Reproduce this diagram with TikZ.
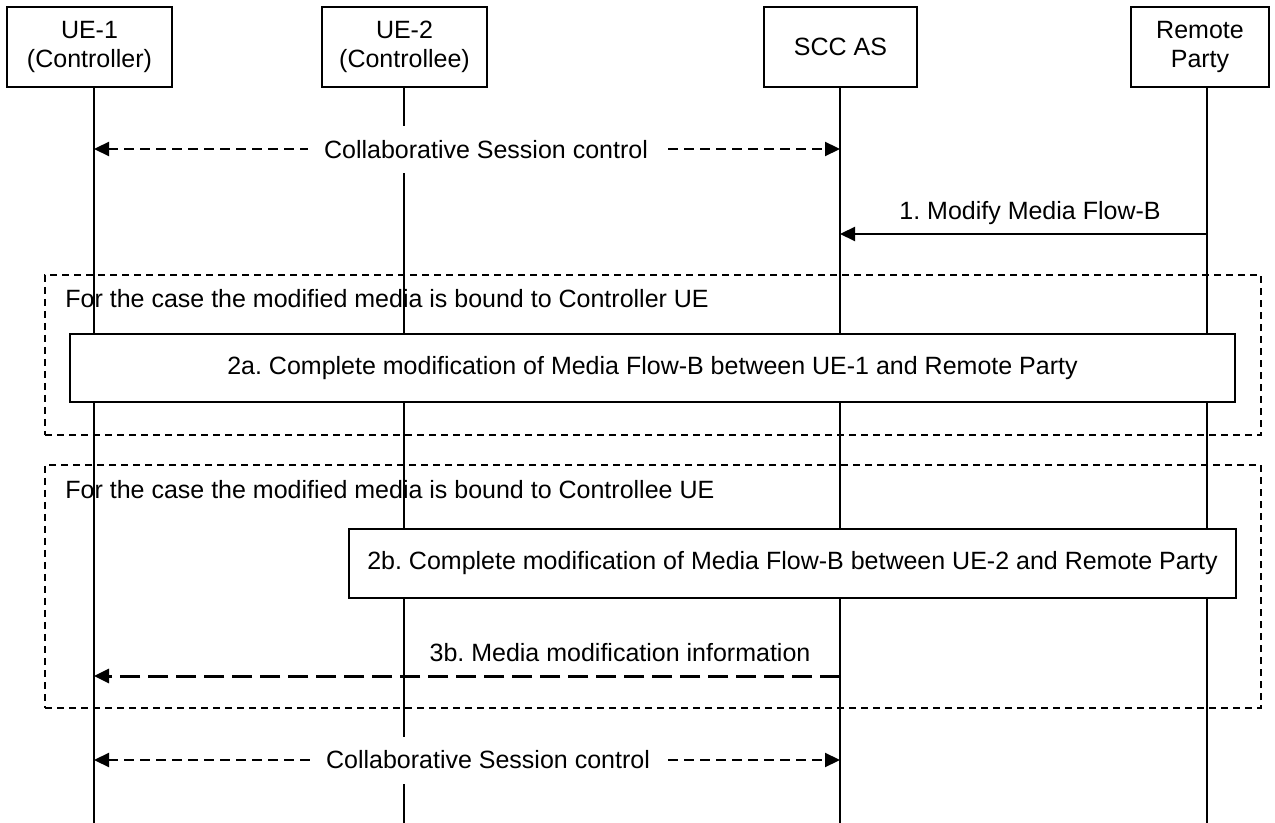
\documentclass[tikz,border=0pt]{standalone}
\usepackage{fontspec}
\setmainfont{Liberation Sans}
\usetikzlibrary{arrows.meta,fit}
\frenchspacing
\begin{document}
\begin{tikzpicture}[x=0.5pt,y=-0.5pt,
  font=\fontsize{12.5}{14.5}\selectfont,
  hdr/.style={draw, line width=0.9pt, fill=white, inner sep=0pt, align=center, minimum height=40pt},
  life/.style={line width=0.6pt},
  actbox/.style={draw, line width=0.9pt, fill=white, inner sep=0pt},
  grp/.style={draw, line width=0.6pt, dash pattern=on 3.5pt off 2.5pt},
  ctl/.style={line width=1.1pt, dash pattern=on 5pt off 3pt, {Triangle[length=7.5pt,width=7pt]}-{Triangle[length=7.5pt,width=7pt]}},
  msg/.style={line width=1.1pt, -{Triangle[length=7.5pt,width=7pt]}},
  lmsg/.style={line width=1.5pt, dash pattern=on 10pt off 4pt, -{Triangle[length=7.5pt,width=7pt]}},
  lbl/.style={inner sep=0pt},
  wlbl/.style={fill=white, inner xsep=8pt, inner ysep=0pt, minimum height=23.5pt}
]
\useasboundingbox (0,0) rectangle (1275,823);

% header boxes
\node[hdr, minimum width=82.5pt] (ue1) at (89.5,47) {UE-1\\(Controller)};
\node[hdr, minimum width=82.5pt] (ue2) at (404.5,47) {UE-2\\(Controllee)};
\node[hdr, minimum width=76.5pt] (scc) at (840.5,47) {SCC AS};
\node[hdr, minimum width=69pt] (rp) at (1200,47) {Remote\\Party};

% lifeline ends
\coordinate (ue1b) at (94,823);
\coordinate (ue2b) at (404,823);
\coordinate (sccb) at (840,823);
\coordinate (rpb) at (1207,823);

\draw[life] (ue1b |- ue1.south) -- (ue1b);
\draw[life] (ue2b |- ue2.south) -- (ue2b);
\draw[life] (sccb |- scc.south) -- (sccb);
\draw[life] (rpb |- rp.south) -- (rpb);

% group frames
\node[grp, fit={(45,275)(1261,435)}, inner sep=0pt] (g1) {};
\node[grp, fit={(45,465)(1261,708)}, inner sep=0pt] (g2) {};
\node[lbl, anchor=west] (g1t) at (65,299) {For the case the modified media is bound to Controller UE};
\node[lbl, anchor=west] (g2t) at (65,490) {For the case the modified media is bound to Controllee UE};

% action boxes
\node[actbox, minimum width=582.5pt, minimum height=34pt] (a2) at (652.5,368) {2a. Complete modification of Media Flow-B between UE-1 and Remote Party};
\node[actbox, minimum width=443.5pt, minimum height=34.5pt] (b2) at (792.5,563.5) {2b. Complete modification of Media Flow-B between UE-2 and Remote Party};

% messages
\coordinate (c1l) at (94,149);
\coordinate (c1r) at (840,149);
\draw[ctl] (c1l) -- (c1r);
\node[wlbl] (c1t) at (486,150) {Collaborative Session control};

\coordinate (m1s) at (1207,234);
\coordinate (m1e) at (840,234);
\draw[msg] (m1s) -- (m1e);
\node[lbl] (m1t) at (1030,213) {1. Modify Media Flow-B};

\coordinate (m3s) at (840,676);
\coordinate (m3e) at (94,676);
\draw[lmsg] (m3s) -- (m3e);
\node[lbl] (m3t) at (620,653) {3b. Media modification information};

\coordinate (c2l) at (94,760);
\coordinate (c2r) at (840,760);
\draw[ctl] (c2l) -- (c2r);
\node[wlbl] (c2t) at (488,760) {Collaborative Session control};
\end{tikzpicture}
\end{document}
